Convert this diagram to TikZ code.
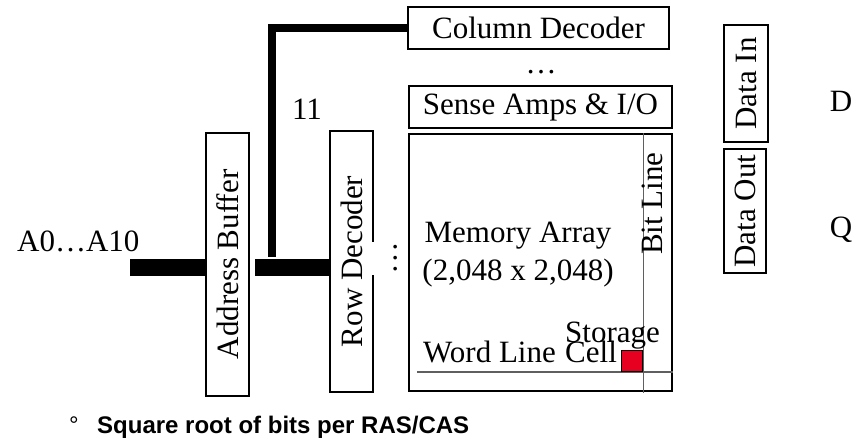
\documentclass[tikz,border=0pt]{standalone}
\usepackage{fontspec}
\setmainfont{Liberation Serif}
\setsansfont{Liberation Sans}
\usetikzlibrary{positioning}
\definecolor{cellred}{RGB}{232,0,32}
\definecolor{wiregray}{RGB}{95,95,95}
\tikzset{
  box/.style={
    draw=black, line width=1.8pt, inner sep=0pt,
    minimum height=42pt, align=center
  },
  vbox/.style={box, minimum width=43pt},
  bus/.style={line width=17pt},
  wire/.style={wiregray, line width=1.2pt},
  lbl/.style={inner sep=0pt}
}

\begin{document}
\begin{tikzpicture}[x=1pt, y=-1pt, font=\fontsize{31}{38}\selectfont]
  \useasboundingbox (0,0) rectangle (865,443);
  \node[box, minimum width=261pt] (coldec) at (538.5,28) {Column Decoder};
  \node[lbl, anchor=base] (coldots) at (541,74) {\dots};
  \node[box, minimum width=263pt] (sense) at (540.5,107) {Sense Amps \& I/O};
  \node[box, minimum width=263pt, minimum height=257pt, below=4pt of sense] (memarr) {};
  \node[vbox, minimum height=263pt] (addr) at (227.5,264.5) {\rotatebox{90}{Address Buffer}};
  \node[vbox, minimum height=261pt] (rowdec) at (351.5,261.5) {\rotatebox{90}{Row Decoder}};
  \node[vbox, minimum width=44pt, minimum height=117pt] (datain) at (746,83.5) {\rotatebox{90}{Data In}};
  \node[vbox, minimum width=42pt, minimum height=124pt] (dataout) at (745,211) {\rotatebox{90}{Data Out}};
  \node[fill=white, inner sep=0pt, minimum width=30pt, minimum height=33pt,
        text width=26pt, align=right, font=\fontsize{31}{11}\selectfont] (rowdots) at (386,258.5) {.\\.\\.};

  % inside the array
  \node[lbl, align=center] (memtxt) at (518,255) {Memory Array\\(2,048 x 2,048)};
  \coordinate (wl) at (417,372);
  \coordinate (bl) at (643,393);
  \draw[wire] (wl) -- (wl -| memarr.east);
  \draw[wire, line width=1pt] (bl) -- (bl |- memarr.north);
  \node[draw=black, line width=0.6pt, fill=cellred, minimum size=21pt, inner sep=0pt,
        anchor=south east] (cell) at (642.5,372) {};
  \node[lbl, anchor=base west] (bitlbl) at (642,255) {\rotatebox{90}{Bit Line}};
  \node[lbl, anchor=base west] (wordlbl) at (423,363) {Word Line};
  \node[lbl, anchor=base west] (storlbl) at (565,343) {Storage};
  \node[lbl, anchor=base west] (celllbl) at (565,363) {Cell};

  % address lines
  \node[lbl, anchor=base west] (ain) at (17,252) {A0\dots A10};
  \node[lbl, anchor=base] (width) at (307,120) {11};
  \coordinate (busin) at (130,267.5);
  \coordinate (busout) at (255,267.5);
  \coordinate (tap) at (272,257);
  \draw[bus] (busin) -- (busin -| addr.west);
  \draw[bus] (busout) -- (busout -| rowdec.west);
  \draw[line width=7.5pt] (tap) |- (coldec.west);

  \node[lbl, anchor=base] (dlbl) at (841,112) {D};
  \node[lbl, anchor=base] (qlbl) at (841,238) {Q};

  \node[lbl, anchor=base west, font=\sffamily\fontsize{24}{28}\selectfont] (bullet) at (69,434) {°};
  \node[lbl, anchor=base west, font=\sffamily\bfseries\fontsize{24}{28}\selectfont] (note) at (97,434)
    {Square root of bits per RAS/CAS};
\end{tikzpicture}
\end{document}
